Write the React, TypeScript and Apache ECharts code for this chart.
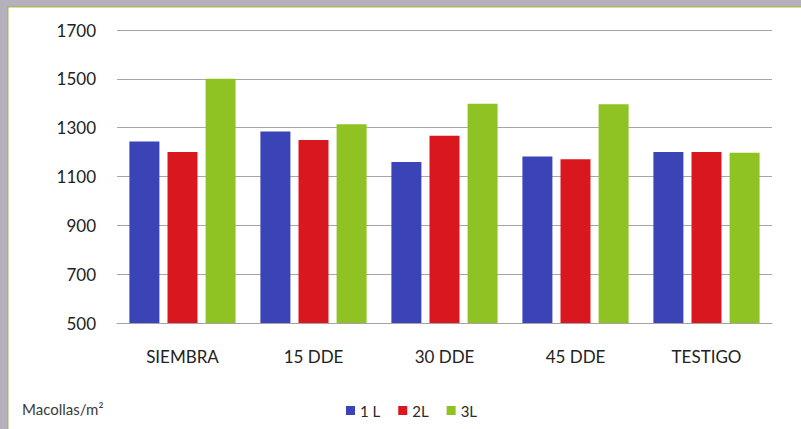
import React, { useEffect, useRef } from "react";
import * as echarts from "echarts";

const categories = ["SIEMBRA", "15 DDE", "30 DDE", "45 DDE", "TESTIGO"];
const series1L = [1243, 1284, 1159, 1182, 1200];
const series2L = [1200, 1250, 1267, 1171, 1200];
const series3L = [1500, 1314, 1398, 1396, 1197];
const seriesNames = ["1 L", "2L", "3L"];
const yTicks = { min: 500, max: 1700, interval: 200 };
const unitLabel = "Macollas/m²";

const FONT = "Lato, 'Open Sans', sans-serif";

export default function App() {
  const ref = useRef<HTMLDivElement>(null);
  useEffect(() => {
    if (!ref.current) return;
    const chart = echarts.init(ref.current, undefined, { renderer: "svg" });
    const colors = ["#3b44b6", "#d8181e", "#8fc323"];
    const data = [series1L, series2L, series3L];
    chart.setOption({
      animation: false,
      backgroundColor: "#ffffff",
      textStyle: { fontFamily: FONT },
      grid: { left: 117, right: 29, top: 30, bottom: 106 },
      legend: {
        left: 341,
        top: 398,
        itemWidth: 9,
        itemHeight: 9,
        itemGap: 18,
        icon: "rect",
        textStyle: { fontFamily: FONT, fontSize: 15, color: "#2a2a2a" },
        data: seriesNames,
      },
      xAxis: {
        type: "category",
        data: categories,
        axisLine: { show: true, lineStyle: { color: "#a8a0a4", width: 1 } },
        axisTick: { show: false },
        axisLabel: { margin: 25, fontSize: 17, color: "#222", fontFamily: FONT },
      },
      yAxis: {
        type: "value",
        min: yTicks.min,
        max: yTicks.max,
        interval: yTicks.interval,
        axisLine: { show: false },
        axisTick: { show: false },
        axisLabel: {
          margin: 21,
          fontSize: 17,
          color: "#222",
          fontFamily: FONT,
          formatter: (v: number) => String(v),
        },
        splitLine: { lineStyle: { color: "#aea2a8", width: 1 } },
      },
      graphic: [
        { type: "rect", shape: { x: 0, y: 0, width: 801, height: 6 }, style: { fill: "#b6b0bd" }, silent: true },
        { type: "rect", shape: { x: 0, y: 0, width: 7, height: 429 }, style: { fill: "#b6b0bd" }, silent: true },
        { type: "rect", shape: { x: 7, y: 6, width: 794, height: 1.5 }, style: { fill: "#a9b95c" }, silent: true },
        { type: "rect", shape: { x: 7, y: 6, width: 1.5, height: 423 }, style: { fill: "#a9b95c" }, silent: true },
        {
          type: "text",
          left: 22,
          top: 401,
          style: { text: unitLabel, fontSize: 15, fill: "#3a3a3a", fontFamily: FONT },
        },
      ],
      series: data.map((d, i) => ({
        name: seriesNames[i],
        type: "bar",
        data: d,
        barWidth: 30,
        barGap: "27%",
        itemStyle: { color: colors[i] },
      })),
    });
    return () => chart.dispose();
  }, []);
  return (
    <div
      ref={ref}
      style={{ position: "fixed", left: 0, top: 0, width: 801, height: 429 }}
    />
  );
}
